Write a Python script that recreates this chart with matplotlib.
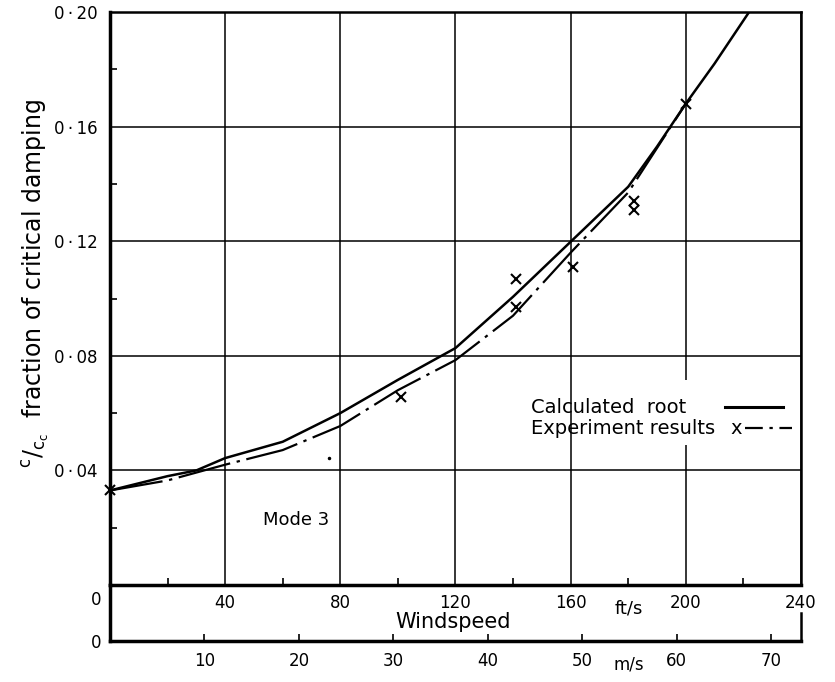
import matplotlib.pyplot as plt
from matplotlib.patches import Rectangle

# windspeed in ft/s, damping as fraction of critical (c/c_c)
calc_speed = [0, 20, 30, 40, 60, 80, 100, 120, 140, 160, 180, 190, 200, 210, 222]
calc_damp = [0.033, 0.038, 0.040, 0.0443, 0.050, 0.060, 0.0716, 0.0827, 0.1006,
             0.1198, 0.139, 0.153, 0.168, 0.182, 0.200]

exp_line_speed = [0, 20, 40, 60, 80, 100, 120, 140, 160, 180, 200]
exp_line_damp = [0.033, 0.0365, 0.042, 0.0471, 0.0555, 0.068, 0.0785, 0.094,
                 0.116, 0.137, 0.168]

exp_speed = [0, 101, 141, 141, 161, 182, 182, 200]
exp_damp = [0.033, 0.0656, 0.1068, 0.097, 0.111, 0.134, 0.131, 0.168]
stray_speed = [76]
stray_damp = [0.0443]

ft_ticks = [0, 40, 80, 120, 160, 200, 240]
ft_labels = ['', '40', '80', '120', '160', '200', '240']
ms_ticks = [10, 20, 30, 40, 50, 60, 70]
y_ticks = [0, 0.04, 0.08, 0.12, 0.16, 0.20]
y_labels = ['', '0\u2009·\u200904', '0\u2009·\u200908', '0\u2009·\u200912',
            '0\u2009·\u200916', '0\u2009·\u200920']

fig = plt.figure(figsize=(8.35, 6.82), dpi=100)
ax = fig.add_axes([0.1317, 0.1422, 0.8275, 0.8402])
ax.set_xlim(0, 240)
ax.set_ylim(0, 0.2)
ax.set_axisbelow(True)

ax.set_xticks(ft_ticks)
ax.set_xticklabels(ft_labels, fontsize=12)
ax.set_xticks(range(20, 240, 40), minor=True)
ax.set_yticks(y_ticks)
ax.set_yticklabels(y_labels, fontsize=12)
ax.set_yticks([0.02, 0.06, 0.10, 0.14, 0.18], minor=True)
ax.tick_params(axis='x', which='major', length=0, pad=6.5)
ax.tick_params(axis='y', which='major', length=0, pad=9)
ax.tick_params(which='minor', direction='in', length=5, width=1.2)
ax.grid(True, which='major', color='black', linewidth=1.1)

for side, lw in [('left', 2.5), ('bottom', 2.5), ('top', 1.8), ('right', 1.8)]:
    ax.spines[side].set_linewidth(lw)

# gap in the 200 ft/s grid line behind the key
ax.add_patch(Rectangle(((676 - 110) / 691, (585 - 445) / 573), 22 / 691, 65 / 573,
                       transform=ax.transAxes, facecolor='white', edgecolor='none',
                       zorder=1.5))

ax.plot(calc_speed, calc_damp, color='black', linewidth=1.8, zorder=3)
ax.plot(exp_line_speed, exp_line_damp, color='black', linewidth=1.6,
        linestyle=(0, (24, 3, 1.5, 3)), zorder=3)
ax.plot(exp_speed, exp_damp, linestyle='none', marker='x', color='black',
        markersize=7, markeredgewidth=1.5, zorder=4, clip_on=False)
ax.plot(stray_speed, stray_damp, linestyle='none', marker='.', color='black',
        markersize=3, zorder=4)

# second speed scale in m/s
loc = -56 / 573
secax = ax.secondary_xaxis(loc, functions=(lambda v: v * 0.3048, lambda v: v / 0.3048))
secax.set_xticks(ms_ticks)
secax.tick_params(direction='in', length=5, width=1.2, pad=8, labelsize=12)
secax.spines['bottom'].set_linewidth(2.5)
ax.plot([0, 0], [0, loc], transform=ax.transAxes, color='black', linewidth=2.5,
        clip_on=False)
ax.plot([1, 1], [-28 / 573, loc], transform=ax.transAxes, color='black',
        linewidth=1.8, clip_on=False)

ax.text(-14 / 691, -15 / 573, '0', transform=ax.transAxes, fontsize=12,
        ha='center', va='center')
ax.text(-14 / 691, -58 / 573, '0', transform=ax.transAxes, fontsize=12,
        ha='center', va='center')
ax.text(519 / 691, -23 / 573, 'ft/s', transform=ax.transAxes, fontsize=13,
        ha='center', va='center')
ax.text(519 / 691, -79 / 573, 'm/s', transform=ax.transAxes, fontsize=12,
        ha='center', va='center')
ax.text(343 / 691, -37 / 573, 'Windspeed', transform=ax.transAxes, fontsize=15,
        ha='center', va='center')

ax.set_ylabel(r'$\mathregular{^c/_{c_c}}$  fraction of critical damping', fontsize=17)
ax.yaxis.set_label_coords(-58 / 691, 0.527)

ax.text(153 / 691, 65 / 573, 'Mode 3', transform=ax.transAxes, fontsize=13,
        ha='left', va='center')

# key
ax.text(421 / 691, 178 / 573, 'Calculated  root', transform=ax.transAxes,
        fontsize=14, ha='left', va='center', zorder=3)
ax.plot([615 / 691, 673 / 691], [178 / 573, 178 / 573], transform=ax.transAxes,
        color='black', linewidth=2.2, zorder=3)
ax.text(421 / 691, 157 / 573, 'Experiment results', transform=ax.transAxes,
        fontsize=14, ha='left', va='center', zorder=3)
ax.text(626 / 691, 157 / 573, 'x', transform=ax.transAxes,
        fontsize=14, ha='center', va='center', zorder=3)
ax.plot([635 / 691, 682 / 691], [157 / 573, 157 / 573], transform=ax.transAxes,
        color='black', linewidth=1.6, linestyle=(0, (8, 3, 1.5, 3)), zorder=3)

fig.savefig('out.png', dpi=100)
